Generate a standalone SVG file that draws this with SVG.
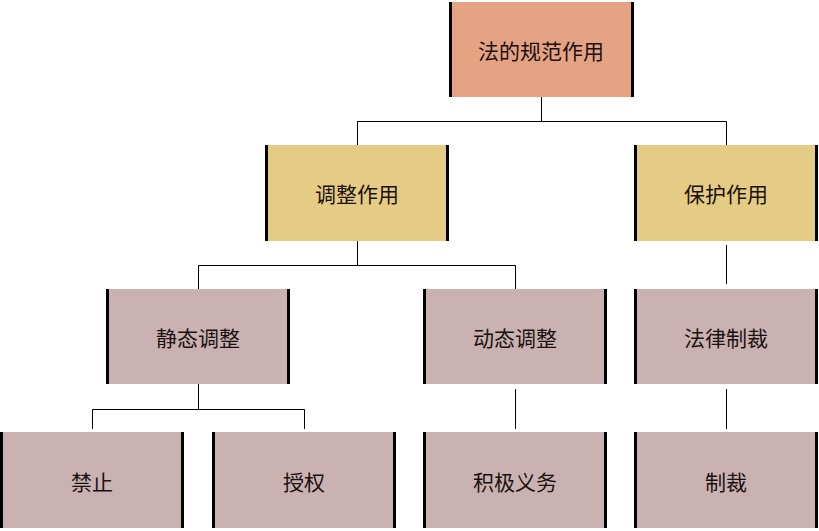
<svg xmlns="http://www.w3.org/2000/svg" width="819" height="531" viewBox="0 0 819 531">
<style>
.n1{fill:#E5A384}
.n2{fill:#E5CC84}
.n3{fill:#CBB2B2}
.bar{fill:#000}
text{font-family:"Noto Sans CJK SC","Liberation Sans",sans-serif;font-size:21px;fill:#1a1010;text-anchor:middle;dominant-baseline:central}
.c{stroke:#000;stroke-width:1;fill:none}
</style>
<rect width="819" height="531" fill="#fff"/>
<g id="connectors">
<path class="c" d="M541.5 97V121.5M357.5 121.5H726.5M357.5 121.5V145M726.5 121.5V145"/>
<path class="c" d="M357.5 241V265.5M198.5 265.5H515.5M198.5 265.5V289M515.5 265.5V289"/>
<path class="c" d="M726.5 245V284"/>
<path class="c" d="M198.5 384V409.5M92.5 409.5H304.5M92.5 409.5V429M304.5 409.5V429"/>
<path class="c" d="M515.5 389V429"/>
<path class="c" d="M726.5 389V429"/>
</g>
<g id="n-fadeguifan">
<rect class="n1" x="450" y="2" width="183" height="95"/>
<rect class="bar" x="449" y="2" width="3" height="95"/><rect class="bar" x="631" y="2" width="3" height="95"/>
<text x="541" y="50">法的规范作用</text>
</g>
<g id="n-tiaozheng">
<rect class="n2" x="266" y="145" width="182" height="96"/>
<rect class="bar" x="265" y="145" width="3" height="96"/><rect class="bar" x="446" y="145" width="3" height="96"/>
<text x="357" y="193">调整作用</text>
</g>
<g id="n-baohu">
<rect class="n2" x="635" y="145" width="182" height="96"/>
<rect class="bar" x="634" y="145" width="3" height="96"/><rect class="bar" x="815" y="145" width="3" height="96"/>
<text x="726" y="193">保护作用</text>
</g>
<g id="n-jingtai">
<rect class="n3" x="107" y="289" width="182" height="95"/>
<rect class="bar" x="106" y="289" width="3" height="95"/><rect class="bar" x="287" y="289" width="3" height="95"/>
<text x="198" y="337">静态调整</text>
</g>
<g id="n-dongtai">
<rect class="n3" x="424" y="289" width="182" height="95"/>
<rect class="bar" x="423" y="289" width="3" height="95"/><rect class="bar" x="604" y="289" width="3" height="95"/>
<text x="515" y="337">动态调整</text>
</g>
<g id="n-falvzhicai">
<rect class="n3" x="635" y="289" width="182" height="95"/>
<rect class="bar" x="634" y="289" width="3" height="95"/><rect class="bar" x="815" y="289" width="3" height="95"/>
<text x="726" y="337">法律制裁</text>
</g>
<g id="n-jinzhi">
<rect class="n3" x="0" y="432" width="184" height="96"/>
<rect class="bar" x="0" y="432" width="3" height="96"/><rect class="bar" x="181" y="432" width="3" height="96"/>
<text x="92" y="481">禁止</text>
</g>
<g id="n-shouquan">
<rect class="n3" x="213" y="432" width="182" height="96"/>
<rect class="bar" x="212" y="432" width="3" height="96"/><rect class="bar" x="393" y="432" width="3" height="96"/>
<text x="304" y="481">授权</text>
</g>
<g id="n-jijiyiwu">
<rect class="n3" x="424" y="432" width="182" height="96"/>
<rect class="bar" x="423" y="432" width="3" height="96"/><rect class="bar" x="604" y="432" width="3" height="96"/>
<text x="515" y="481">积极义务</text>
</g>
<g id="n-zhicai">
<rect class="n3" x="635" y="432" width="182" height="96"/>
<rect class="bar" x="634" y="432" width="3" height="96"/><rect class="bar" x="815" y="432" width="3" height="96"/>
<text x="726" y="481">制裁</text>
</g>
</svg>
